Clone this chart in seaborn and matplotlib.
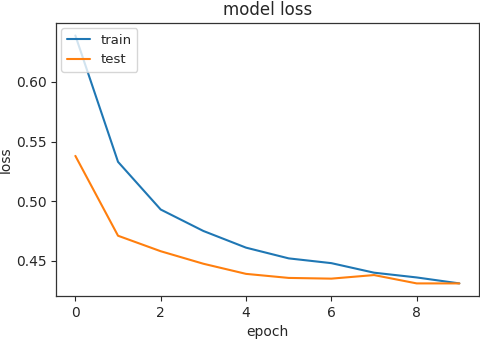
import numpy as np
import pandas as pd
import seaborn as sns
import matplotlib
matplotlib.use("Agg")
import matplotlib.pyplot as plt

# loss history
epochs = list(range(10))
train_loss = [0.639, 0.533, 0.493, 0.475, 0.461, 0.452, 0.448, 0.440, 0.436, 0.431]
test_loss = [0.538, 0.471, 0.458, 0.4475, 0.439, 0.4356, 0.435, 0.438, 0.431, 0.431]

sns.set_style("ticks")
plt.rcParams['font.family'] = ['DejaVu Sans']
plt.rcParams['font.size'] = 10

df = pd.DataFrame({"epoch": epochs + epochs,
                   "loss": train_loss + test_loss,
                   "set": ["train"] * 10 + ["test"] * 10})

fig, ax = plt.subplots(figsize=(4.8, 3.4), dpi=100)
sns.lineplot(data=df, x="epoch", y="loss", hue="set",
             palette=["#1f77b4", "#ff7f0e"], linewidth=1.5, ax=ax)

ax.set_title("model loss", fontsize=12)
ax.set_xlabel("epoch", fontsize=10)
ax.set_ylabel("loss", fontsize=10, labelpad=2)
ax.set_xticks([0, 2, 4, 6, 8])
ax.set_yticks([0.45, 0.50, 0.55, 0.60])
ax.set_yticklabels(["0.45", "0.50", "0.55", "0.60"])
ax.tick_params(labelsize=10)
for s in ax.spines.values():
    s.set_visible(True)
    s.set_color("#333333")
    s.set_linewidth(0.9)
ax.legend(loc="upper left", fontsize=9.5, title=None, handlelength=1.8,
          borderaxespad=0.4)

fig.subplots_adjust(left=0.117, right=0.997, top=0.932, bottom=0.13)
fig.savefig("out.png", dpi=100)
